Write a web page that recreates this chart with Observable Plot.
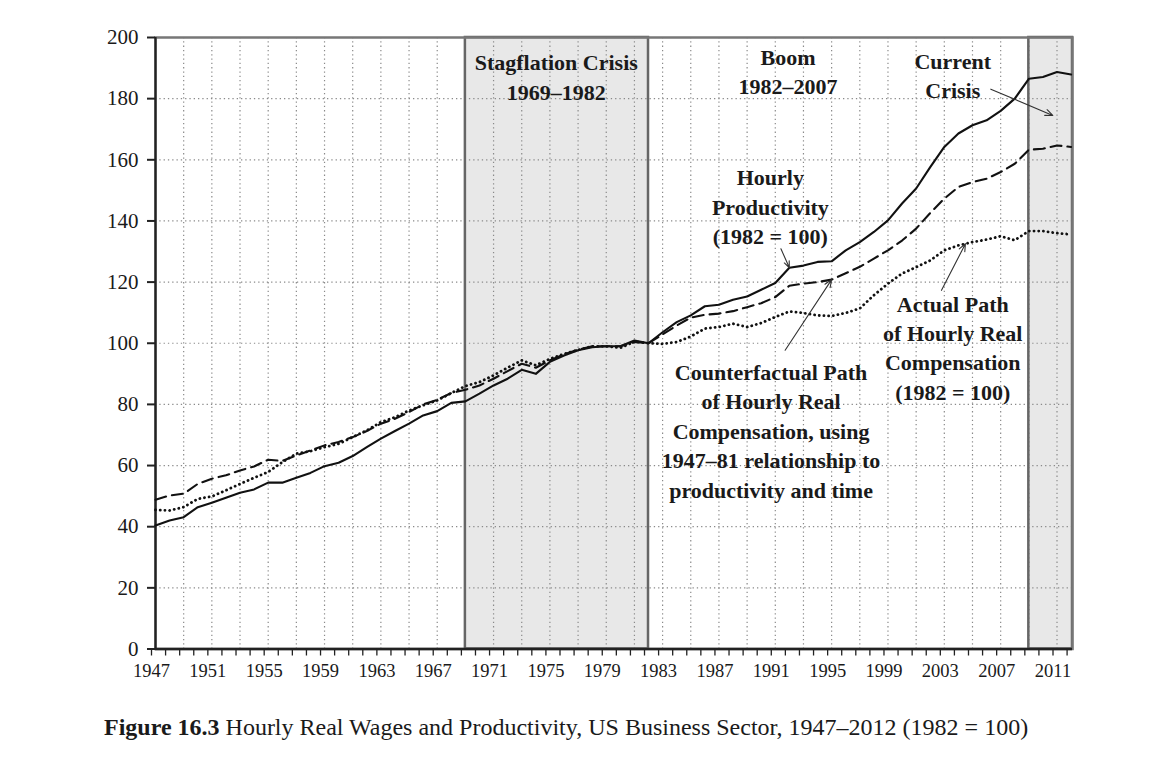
<!DOCTYPE html>
<html>
<head>
<meta charset="utf-8">
<script src="https://cdn.jsdelivr.net/npm/d3@7"></script>
<script src="https://cdn.jsdelivr.net/npm/@observablehq/plot@0.6"></script>
<style>
  body { margin: 0; background: #fff; }
  #chart { position: absolute; left: 0; top: 0; }
  #caption { position: absolute; left: 104px; top: 715px; font-family: "Liberation Serif", serif; font-size: 24px; line-height: 1; color: #1a1a1a; white-space: nowrap; }
</style>
</head>
<body>
<div id="chart"></div>
<div id="caption"><b>Figure 16.3</b> Hourly Real Wages and Productivity, US Business Sector, 1947–2012 (1982 = 100)</div>
<script>
// ---- Data (1982 = 100) ----
const years = d3.range(1947, 2013);

const productivity = [
  40.4, 42.0, 43.1, 46.4, 47.8, 49.5, 51.1, 52.2, 54.4, 54.4,
  56.0, 57.6, 59.8, 60.9, 63.1, 66.0, 68.8, 71.3, 73.7, 76.4,
  77.8, 80.5, 81.0, 83.5, 86.2, 88.4, 91.3, 90.0, 93.9, 96.0,
  97.7, 98.7, 99.0, 99.0, 100.9, 100.0, 103.6, 106.9, 109.1, 112.1,
  112.6, 114.2, 115.3, 117.5, 119.7, 124.7, 125.4, 126.6, 126.8, 130.4,
  133.1, 136.4, 140.2, 145.7, 150.6, 157.6, 164.2, 168.6, 171.3, 172.9,
  176.0, 180.0, 186.5, 187.1, 188.7, 187.9
];

const counterfactual = [
  48.8, 50.2, 50.8, 54.0, 55.7, 56.8, 58.4, 59.7, 61.9, 61.5,
  63.3, 64.9, 66.6, 67.7, 69.3, 71.3, 73.7, 75.3, 77.5, 80.0,
  81.5, 83.7, 84.8, 86.2, 88.4, 90.9, 93.3, 92.0, 94.4, 96.4,
  97.9, 99.0, 99.0, 99.0, 100.4, 100.0, 102.9, 105.8, 108.4, 109.3,
  109.7, 110.5, 111.8, 113.1, 115.1, 118.8, 119.5, 120.0, 120.8, 122.9,
  125.0, 127.7, 130.4, 133.6, 137.5, 142.6, 147.3, 151.1, 152.7, 153.8,
  156.0, 158.7, 163.3, 163.6, 164.7, 164.2
];

const actual = [
  45.5, 45.3, 46.4, 49.1, 49.9, 51.9, 54.0, 56.0, 57.9, 61.1,
  63.9, 64.7, 66.0, 67.1, 69.3, 71.5, 74.2, 75.8, 78.0, 79.7,
  81.3, 83.7, 86.0, 87.3, 89.5, 92.0, 94.4, 92.8, 94.9, 96.5,
  97.8, 99.0, 99.0, 98.5, 100.5, 100.0, 99.8, 100.4, 102.2, 104.8,
  105.3, 106.4, 105.3, 106.6, 108.6, 110.4, 109.9, 109.1, 108.9, 109.9,
  111.4, 115.7, 119.5, 122.8, 124.9, 127.1, 130.4, 132.0, 133.1, 133.9,
  135.0, 133.7, 136.7, 136.7, 136.0, 135.6
];

const crisisPeriods = [
  { start: 1969, end: 1982 },
  { start: 2009, end: 2012.1 }
];

const yTicks = d3.range(0, 201, 20);
const xLabelYears = d3.range(1947, 2012, 4);
const xGridYears = d3.range(1949, 2012, 2);

const labels = [
  { year: 1975.45, value: 187.6, text: "Stagflation Crisis\n1969–1982" },
  { year: 1991.9, value: 189.4, text: "Boom\n1982–2007" },
  { year: 2003.6, value: 188.1, text: "Current\nCrisis" },
  { year: 1990.65, value: 145.1, text: "Hourly\nProductivity\n(1982 = 100)" },
  { year: 1990.7, value: 71.8, text: "Counterfactual Path\nof Hourly Real\nCompensation, using\n1947–81 relationship to\nproductivity and time" },
  { year: 2003.6, value: 99.0, text: "Actual Path\nof Hourly Real\nCompensation\n(1982 = 100)" }
];

const idx = y => y - 1947;
const pointers = [
  { fromYear: 2006.3, fromValue: 183.1, toYear: 2010.7, toValue: 174.5 },
  { fromYear: 1991.4, fromValue: 130.9, toYear: 1992, toValue: productivity[idx(1992)] },
  { fromYear: 1991.7, fromValue: 97.7, toYear: 1995, toValue: counterfactual[idx(1995)] },
  { fromYear: 2002.8, fromValue: 117.3, toYear: 2004.5, toValue: (actual[idx(2004)] + actual[idx(2005)]) / 2 }
];

const serif = "'Liberation Serif', 'DejaVu Serif', serif";

const chart = Plot.plot({
  width: 1169,
  height: 700,
  marginLeft: 155,
  marginRight: 97,
  marginTop: 37,
  marginBottom: 51.5,
  x: { domain: [1947, 2012.1] },
  y: { domain: [0, 200] },
  style: { fontFamily: serif, fontSize: "16px", background: "white", color: "#1a1a1a", overflow: "visible" },
  marks: [
    Plot.rect(crisisPeriods, { x1: "start", x2: "end", y1: 0, y2: 200, fill: "#e8e8e8" }),
    Plot.ruleY(yTicks.filter(d => d > 0 && d < 200), { stroke: "#8a8a8a", strokeWidth: 1.2, strokeDasharray: "1.3,3" }),
    Plot.ruleX(xGridYears, { stroke: "#8a8a8a", strokeWidth: 1.2, strokeDasharray: "1.3,3" }),
    Plot.rect(crisisPeriods, { x1: "start", x2: "end", y1: 0, y2: 200, fill: "none", stroke: "#666", strokeWidth: 2.5 }),
    Plot.frame({ stroke: "#777", strokeWidth: 2.5 }),
    Plot.ruleX([1947], { stroke: "#222", strokeWidth: 2.2 }),
    Plot.ruleY([0], { stroke: "#222", strokeWidth: 2.5 }),
    Plot.axisY({ ticks: yTicks, tickSize: 8, tickPadding: 9, fontSize: 21, stroke: "#222", strokeWidth: 2, color: "#1a1a1a", label: null }),
    Plot.axisX({ ticks: years, tickSize: 7, tickPadding: 8, fontSize: 18.5, stroke: "#222", strokeWidth: 1.3, color: "#1a1a1a", label: null, dx: -4,
      tickFormat: d => xLabelYears.includes(d) ? String(d) : "" }),
    Plot.line(years, { x: d => d, y: (d, i) => actual[i], stroke: "#111", strokeWidth: 2.8, strokeDasharray: "0.1,4.6", strokeLinecap: "round" }),
    Plot.line(years, { x: d => d, y: (d, i) => counterfactual[i], stroke: "#111", strokeWidth: 2.1, strokeDasharray: "11,6" }),
    Plot.line(years, { x: d => d, y: (d, i) => productivity[i], stroke: "#111", strokeWidth: 2.1 }),
    Plot.arrow(pointers, { x1: "fromYear", y1: "fromValue", x2: "toYear", y2: "toValue", stroke: "#333", strokeWidth: 1.1, headLength: 11, headAngle: 45 }),
    Plot.text(labels, { x: "year", y: "value", text: "text", lineAnchor: "middle", lineHeight: 1.34, fontSize: 22, fontWeight: "bold", fill: "#1a1a1a" })
  ]
});

document.getElementById("chart").appendChild(chart);
</script>
</body>
</html>
